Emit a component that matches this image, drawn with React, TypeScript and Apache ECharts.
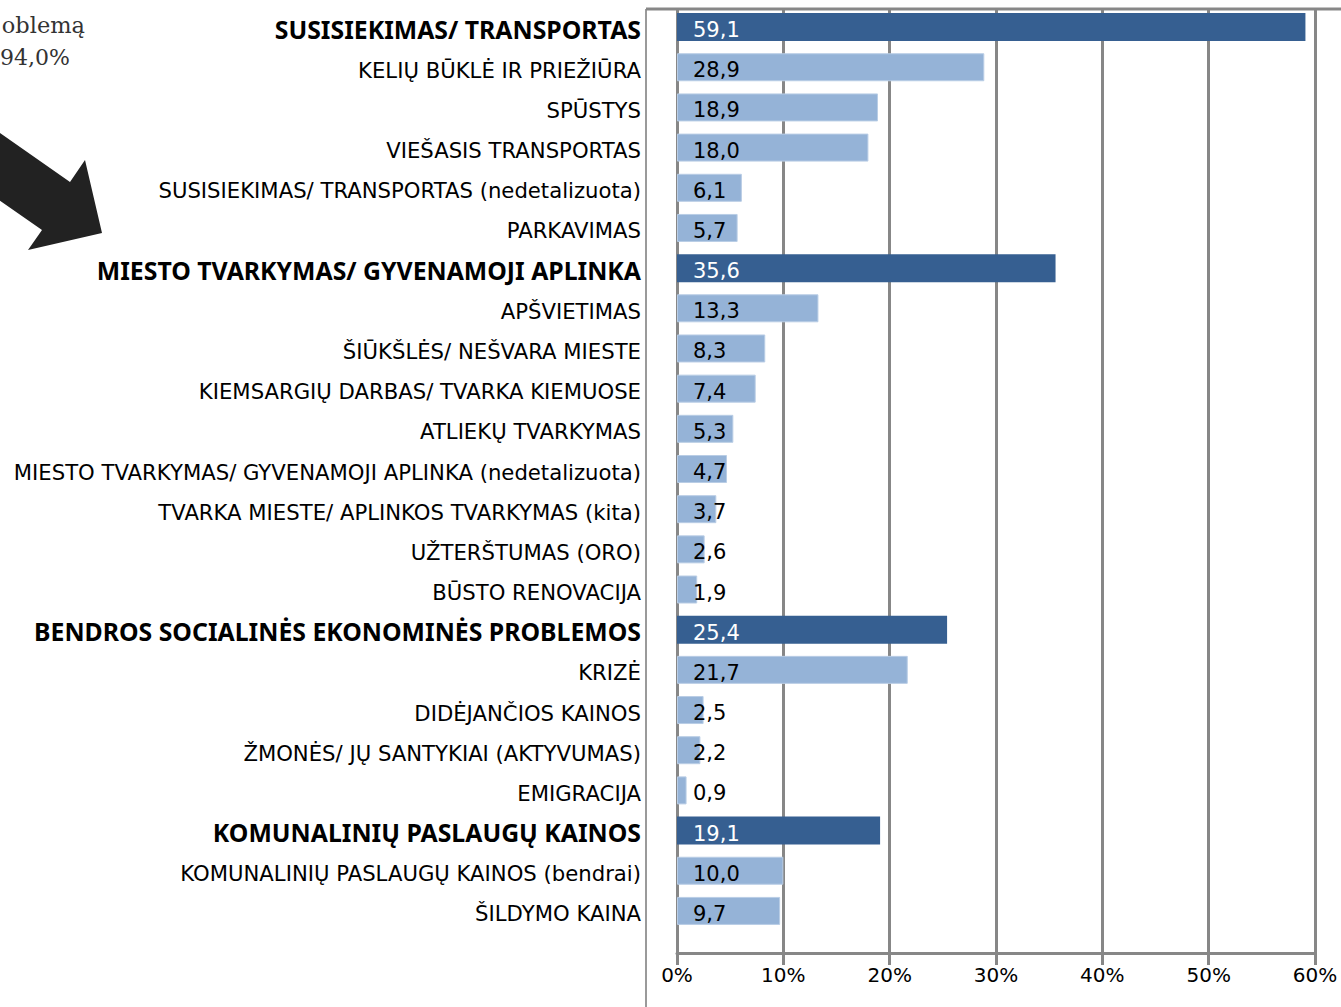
import React, { useEffect, useRef } from "react";
import * as echarts from "echarts";

const categories = [
  "SUSISIEKIMAS/ TRANSPORTAS",
  "KELIŲ BŪKLĖ IR PRIEŽIŪRA",
  "SPŪSTYS",
  "VIEŠASIS TRANSPORTAS",
  "SUSISIEKIMAS/ TRANSPORTAS (nedetalizuota)",
  "PARKAVIMAS",
  "MIESTO TVARKYMAS/ GYVENAMOJI APLINKA",
  "APŠVIETIMAS",
  "ŠIŪKŠLĖS/ NEŠVARA MIESTE",
  "KIEMSARGIŲ DARBAS/ TVARKA KIEMUOSE",
  "ATLIEKŲ TVARKYMAS",
  "MIESTO TVARKYMAS/ GYVENAMOJI APLINKA (nedetalizuota)",
  "TVARKA MIESTE/ APLINKOS TVARKYMAS (kita)",
  "UŽTERŠTUMAS (ORO)",
  "BŪSTO RENOVACIJA",
  "BENDROS SOCIALINĖS EKONOMINĖS PROBLEMOS",
  "KRIZĖ",
  "DIDĖJANČIOS KAINOS",
  "ŽMONĖS/ JŲ SANTYKIAI (AKTYVUMAS)",
  "EMIGRACIJA",
  "KOMUNALINIŲ PASLAUGŲ KAINOS",
  "KOMUNALINIŲ PASLAUGŲ KAINOS (bendrai)",
  "ŠILDYMO KAINA",
];

const values = [
  59.1, 28.9, 18.9, 18.0, 6.1, 5.7, 35.6, 13.3, 8.3, 7.4, 5.3, 4.7, 3.7, 2.6, 1.9,
  25.4, 21.7, 2.5, 2.2, 0.9, 19.1, 10.0, 9.7,
];

const headers = [
  "SUSISIEKIMAS/ TRANSPORTAS",
  "MIESTO TVARKYMAS/ GYVENAMOJI APLINKA",
  "BENDROS SOCIALINĖS EKONOMINĖS PROBLEMOS",
  "KOMUNALINIŲ PASLAUGŲ KAINOS",
];

const xTicks = [0, 10, 20, 30, 40, 50, 60];

const noteLines = ["oblemą", "94,0%"];

const DARK = "#365F91";
const LIGHT = "#95B3D7";
const GRIDC = "#878787";
const FONT = "'DejaVu Sans', sans-serif";
const BFONT = "'Noto Sans', 'Open Sans', sans-serif";
const SERIF = "'DejaVu Serif', 'Liberation Serif', serif";

export default function App() {
  const ref = useRef<HTMLDivElement>(null);

  useEffect(() => {
    if (!ref.current) return;
    const chart = echarts.init(ref.current, undefined, { renderer: "svg" });

    const data = values.map((v, i) => {
      const isHead = headers.includes(categories[i]);
      return {
        value: v,
        itemStyle: isHead
          ? { color: DARK }
          : { color: LIGHT, borderColor: "#B9CDE5", borderWidth: 1 },
        label: { color: isHead ? "#ffffff" : "#000000" },
      };
    });

    chart.setOption({
      animation: false,
      backgroundColor: "#ffffff",
      grid: [
        { left: 677, width: 638, top: 7, height: 924, containLabel: false },
        { left: 677, width: 638, top: 9, height: 944, containLabel: false },
      ],
      xAxis: [
        {
          gridIndex: 0,
          type: "value",
          min: 0,
          max: 60,
          interval: 10,
          show: false,
        },
        {
          gridIndex: 1,
          type: "value",
          min: xTicks[0],
          max: xTicks[xTicks.length - 1],
          interval: 10,
          axisLine: { show: true, lineStyle: { color: GRIDC, width: 3 } },
          axisTick: { show: true, length: 12, lineStyle: { color: GRIDC, width: 3 } },
          splitLine: { show: true, lineStyle: { color: GRIDC, width: 3 } },
          axisLabel: {
            formatter: (v: number) => `${v}%`,
            fontFamily: FONT,
            fontSize: 20,
            color: "#000",
            margin: 12,
          },
        },
      ],
      yAxis: [
        {
          gridIndex: 0,
          type: "category",
          data: categories,
          inverse: true,
          axisLine: { show: false },
          axisTick: { show: false },
          axisLabel: {
            margin: 36,
            formatter: (v: string) =>
              headers.includes(v) ? `{h|${v}}` : `{n|${v}}`,
            rich: {
              h: {
                fontFamily: BFONT,
                fontWeight: "bold",
                fontSize: 24.8,
                color: "#000",
                padding: [3, 0, 0, 0],
              },
              n: {
                fontFamily: FONT,
                fontSize: 21.2,
                color: "#000",
                padding: [6, 0, 0, 0],
              },
            },
          },
        },
        {
          gridIndex: 1,
          type: "value",
          min: 0,
          max: 1,
          show: false,
        },
      ],
      series: [
        {
          type: "bar",
          xAxisIndex: 0,
          yAxisIndex: 0,
          data,
          barWidth: 28,
          z: 3,
          label: {
            show: true,
            position: "insideLeft",
            distance: 16,
            offset: [0, 3],
            fontFamily: FONT,
            fontSize: 21,
            formatter: (p: any) => p.value.toFixed(1).replace(".", ","),
          },
        },
      ],
      graphic: [
        {
          type: "line",
          shape: { x1: 646, y1: 9, x2: 646, y2: 1007 },
          style: { stroke: "#9a9a9a", lineWidth: 2 },
        },
        {
          type: "line",
          shape: { x1: 646, y1: 9, x2: 1341, y2: 9 },
          style: { stroke: GRIDC, lineWidth: 3 },
        },
        {
          type: "polygon",
          shape: {
            points: [
              [-20, 119],
              [70, 182],
              [85, 160],
              [102, 233],
              [28, 250],
              [42, 230],
              [-20, 187],
            ],
          },
          style: { fill: "#222222" },
          z: 10,
        },
        {
          type: "text",
          x: 85,
          y: 25,
          style: {
            text: noteLines[0],
            fontFamily: SERIF,
            fontSize: 22.5,
            fill: "#333",
            textAlign: "right",
            textVerticalAlign: "middle",
          },
        },
        {
          type: "text",
          x: 70,
          y: 57,
          style: {
            text: noteLines[1],
            fontFamily: SERIF,
            fontSize: 22,
            fill: "#333",
            textAlign: "right",
            textVerticalAlign: "middle",
          },
        },
      ],
    });

    return () => chart.dispose();
  }, []);

  return (
    <div
      ref={ref}
      style={{ position: "fixed", left: 0, top: 0, width: 1341, height: 1007 }}
    />
  );
}
